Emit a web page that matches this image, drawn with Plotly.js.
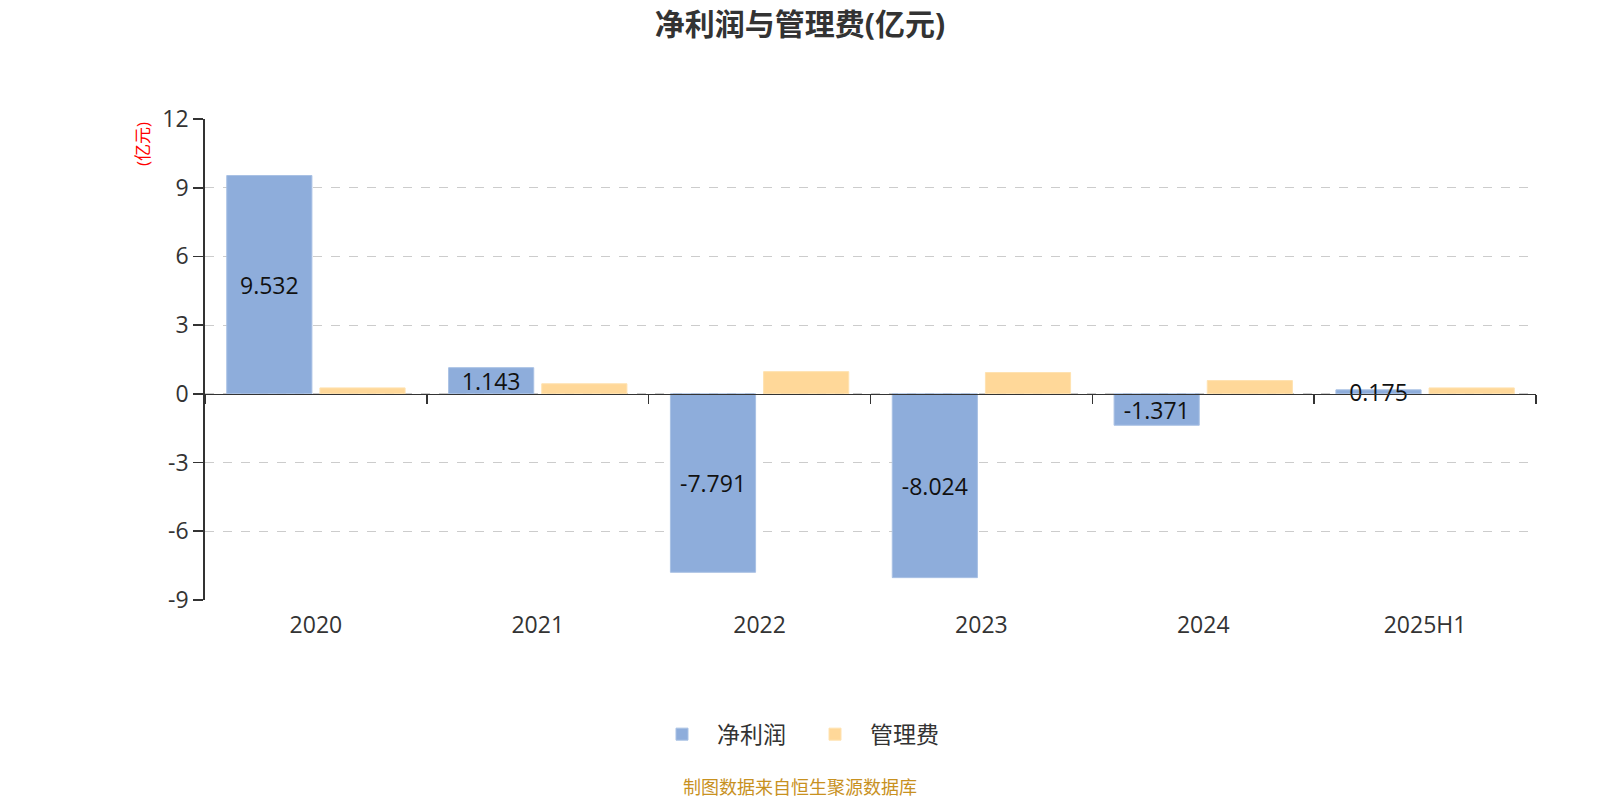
<!DOCTYPE html>
<html><head><meta charset="utf-8">
<script src="https://cdn.plot.ly/plotly-3.0.1.min.js"></script>
<style>html,body{margin:0;padding:0;background:#fff}#c{width:1600px;height:800px}</style>
</head><body><div id="c"></div>
<script>
const categories = ['2020','2021','2022','2023','2024','2025H1'];
const netProfit = [9.532, 1.143, -7.791, -8.024, -1.371, 0.175];
const adminFee = [0.26, 0.44, 0.97, 0.93, 0.58, 0.26];
const netLabels = ['9.532','1.143','-7.791','-8.024','-1.371','0.175'];
const yTicks = [-9,-6,-3,0,3,6,9,12];
const yTickText = ['-9','-6','-3','0','3','6','9','12'];

const F = '"Open Sans","Noto Sans CJK SC",sans-serif';
const boundaries = categories.map((c,i)=>i+0.5);
boundaries.unshift(-0.5);
const pageCenter = (800-205)/1331;

const data = [
  {type:'bar', name:'净利润', x:categories, y:netProfit, text:netLabels,
   textposition:'inside', insidetextanchor:'middle', constraintext:'none',
   textfont:{family:F, size:23, color:'#111'},
   marker:{color:'#8EADDB', line:{color:'#A9C1E4', width:1}}, hoverinfo:'skip'},
  {type:'bar', name:'管理费', x:categories, y:adminFee,
   marker:{color:'#FFD899', line:{color:'#FFE2B0', width:1}}, hoverinfo:'skip'},
  {type:'scatter', x:[-0.5,5.5], y:[0,0], xaxis:'x2', yaxis:'y', mode:'lines',
   line:{width:0}, showlegend:false, hoverinfo:'skip'}
];

const layout = {
  width:1600, height:800,
  paper_bgcolor:'#fff', plot_bgcolor:'#fff',
  margin:{l:205, r:64, t:119.4, b:200},
  title:{text:'<b>净利润与管理费(亿元)</b>', x:0.5, xanchor:'center', y:0.97, yanchor:'middle',
         font:{family:F, size:30, color:'#333'}},
  barmode:'group', bargap:0.16, bargroupgap:0.086,
  xaxis:{type:'category', showgrid:false, showline:false, zeroline:false,
         ticks:'outside', ticklen:4, tickcolor:'rgba(0,0,0,0)',
         tickfont:{family:F, size:23, color:'#333'}, fixedrange:true},
  xaxis2:{overlaying:'x', anchor:'free', position:9/21, range:[-0.5,5.5],
          showline:true, linecolor:'#333', linewidth:1.6,
          tickmode:'array', tickvals:boundaries, ticks:'outside', ticklen:9,
          tickcolor:'#333', tickwidth:1.6, showticklabels:false, showgrid:false, zeroline:false},
  yaxis:{range:[-9,12], tickmode:'array', tickvals:yTicks, ticktext:yTickText,
         showline:true, linecolor:'#333', linewidth:1.8,
         ticks:'outside', ticklen:10, tickcolor:'#333', tickwidth:1.6,
         showgrid:true, gridcolor:'#CCCCCC', griddash:'dash', gridwidth:1.2,
         zeroline:false,
         tickfont:{family:F, size:23, color:'#333'}},
  showlegend:true,
  legend:{orientation:'h', x:pageCenter, xanchor:'center', y:-0.279, yanchor:'middle',
          font:{family:F, size:23, color:'#333'}, itemwidth:60,
          entrywidth:78, entrywidthmode:'pixels', traceorder:'normal'},
  annotations:[
    {text:'(亿元)', xref:'paper', yref:'paper', x:-0.047, y:0.949, textangle:-90,
     showarrow:false, font:{family:F, size:17, color:'#FF0000'}, xanchor:'center', yanchor:'middle'},
    {text:'制图数据来自恒生聚源数据库', xref:'paper', yref:'paper', x:pageCenter, y:-0.388,
     showarrow:false, font:{family:F, size:18, color:'#C8911F'}, xanchor:'center', yanchor:'middle'}
  ]
};
Plotly.newPlot('c', data, layout, {displayModeBar:false, staticPlot:true});
</script></body></html>
